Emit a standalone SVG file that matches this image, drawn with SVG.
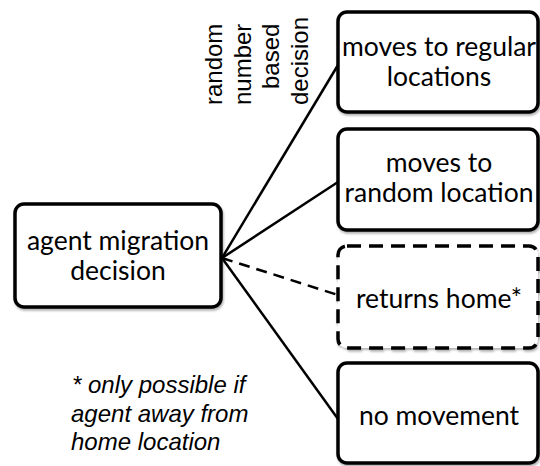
<svg xmlns="http://www.w3.org/2000/svg" width="540" height="466" viewBox="0 0 540 466">
  <defs>
    <style>
      .box { fill: #ffffff; stroke: #000000; stroke-width: 3.5; }
      .dashed { stroke-dasharray: 14 8; }
      .lbl { font-family: Lato, "Open Sans", sans-serif; font-size: 26.5px; fill: #000000; text-anchor: middle; }
      .side { font-family: "Liberation Sans", Arial, sans-serif; font-size: 24px; fill: #000000; }
      .note { font-family: "Liberation Sans", Arial, sans-serif; font-size: 24px; font-style: italic; fill: #000000; }
      .conn { stroke: #000000; stroke-width: 2.5; fill: none; }
      .conn-dash { stroke-dasharray: 11 7; }
    </style>
    <filter id="shadow" x="-10%" y="-10%" width="120%" height="125%">
      <feDropShadow dx="1" dy="2" stdDeviation="1.2" flood-color="#000000" flood-opacity="0.3"/>
    </filter>
  </defs>

  <g id="connectors">
    <line class="conn" x1="222" y1="258" x2="338" y2="65"/>
    <line class="conn" x1="222" y1="258" x2="338" y2="182"/>
    <line class="conn conn-dash" x1="222" y1="258" x2="338" y2="295"/>
    <line class="conn" x1="222" y1="258" x2="338" y2="419"/>
  </g>

  <g id="node-agent">
    <rect class="box" x="15" y="204" width="206" height="103" rx="9" filter="url(#shadow)"/>
    <text class="lbl" x="118" y="250">agent migration</text>
    <text class="lbl" x="118" y="280">decision</text>
  </g>

  <g id="node-regular">
    <rect class="box" x="338" y="12" width="200" height="100" rx="9" filter="url(#shadow)"/>
    <text class="lbl" x="439" y="56">moves to regular</text>
    <text class="lbl" x="439" y="86">locations</text>
  </g>

  <g id="node-random">
    <rect class="box" x="338" y="129" width="200" height="101" rx="9" filter="url(#shadow)"/>
    <text class="lbl" x="439" y="172">moves to</text>
    <text class="lbl" x="439" y="202">random location</text>
  </g>

  <g id="node-home">
    <rect class="box dashed" x="338" y="246" width="200" height="102" rx="9" filter="url(#shadow)"/>
    <text class="lbl" x="439" y="308">returns home*</text>
  </g>

  <g id="node-none">
    <rect class="box" x="338" y="363" width="200" height="100" rx="9" filter="url(#shadow)"/>
    <text class="lbl" x="439" y="425">no movement</text>
  </g>

  <g id="side-label">
    <text class="side" transform="translate(222,17) rotate(-90)" text-anchor="end">
      <tspan x="0" y="0">random</tspan>
      <tspan x="0" dy="28.5">number</tspan>
      <tspan x="0" dy="28.5">based</tspan>
      <tspan x="0" dy="28.5">decision</tspan>
    </text>
  </g>

  <g id="footnote">
    <text class="note">
      <tspan x="72" y="393">* only possible if</tspan>
      <tspan x="71" y="422">agent away from</tspan>
      <tspan x="71" y="450">home location</tspan>
    </text>
  </g>
</svg>
